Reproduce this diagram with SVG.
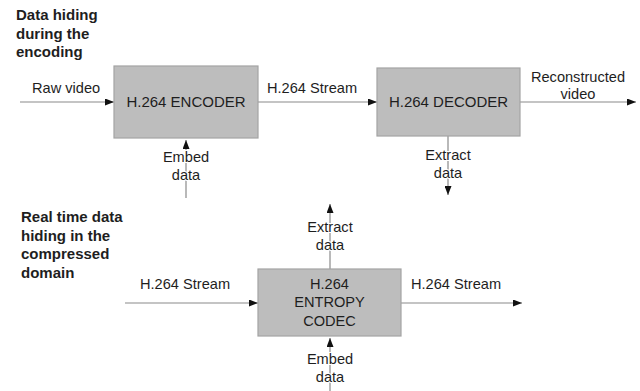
<svg xmlns="http://www.w3.org/2000/svg" width="640" height="391" viewBox="0 0 640 391">
<defs>
<marker id="ah" viewBox="0 0 9 7" refX="9" refY="3.5" markerWidth="9" markerHeight="7" markerUnits="userSpaceOnUse" orient="auto">
<path d="M0,0 L9,3.5 L0,7 Z" fill="#111"/>
</marker>
</defs>
<style>
.t{font-family:"Liberation Sans",Arial,sans-serif;font-size:14.6px;fill:#1e1e1e}
.c{text-anchor:middle}
.b{font-family:"Liberation Sans",Arial,sans-serif;font-size:15px;font-weight:bold;fill:#1e1e1e}
.box{fill:#bdbdbd;stroke:#a3a3a3;stroke-width:1.2}
.ln{stroke:#8a8a8a;stroke-width:1.2;fill:none}
.ar{marker-end:url(#ah)}
.h{paint-order:stroke;stroke:#fff;stroke-width:2}
</style>
<rect width="640" height="391" fill="#fff"/>
<g id="connectors">
<line class="ln ar" x1="20" y1="102" x2="114" y2="102"/>
<line class="ln ar" x1="258" y1="102" x2="377" y2="102"/>
<line class="ln ar" x1="520" y1="102" x2="636" y2="102"/>
<line class="ln ar" x1="186" y1="198" x2="186" y2="140"/>
<line class="ln ar" x1="448" y1="136" x2="448" y2="195"/>
<line class="ln ar" x1="125" y1="303" x2="258" y2="303"/>
<line class="ln ar" x1="401" y1="303" x2="522" y2="303"/>
<line class="ln ar" x1="330" y1="269" x2="330" y2="204"/>
<line class="ln ar" x1="330" y1="391" x2="330" y2="338"/>
</g>
<g id="labels">
<text class="b" x="16" y="20">Data hiding</text>
<text class="b" x="16" y="38.5">during the</text>
<text class="b" x="16" y="57">encoding</text>
<text class="b" x="21" y="222">Real time data</text>
<text class="b" x="21" y="240.5">hiding in the</text>
<text class="b" x="21" y="259">compressed</text>
<text class="b" x="21" y="277.5">domain</text>
<text class="t" x="32" y="92.7">Raw video</text>
<text class="t" x="267" y="92.7">H.264 Stream</text>
<text class="t c" x="578" y="81.7">Reconstructed</text>
<text class="t c" x="578" y="99">video</text>
<text class="t c h" x="186" y="162.3">Embed</text>
<text class="t c h" x="186" y="180">data</text>
<text class="t c h" x="448" y="160">Extract</text>
<text class="t c h" x="448" y="177.7">data</text>
<text class="t" x="140" y="289">H.264 Stream</text>
<text class="t" x="411" y="289">H.264 Stream</text>
<text class="t c h" x="330" y="232">Extract</text>
<text class="t c h" x="330" y="250">data</text>
<text class="t c h" x="330" y="364">Embed</text>
<text class="t c h" x="330" y="382">data</text>
</g>
<g id="encoder">
<rect class="box" x="114" y="66" width="144" height="72"/>
<text class="t c" x="186" y="107.3" style="font-size:15px">H.264 ENCODER</text>
</g>
<g id="decoder">
<rect class="box" x="377" y="68" width="143" height="68"/>
<text class="t c" x="448.5" y="107" style="font-size:15px">H.264 DECODER</text>
</g>
<g id="entropy">
<rect class="box" x="258" y="269" width="143" height="67"/>
<text class="t c" x="329.5" y="289">H.264</text>
<text class="t c" x="329.5" y="307">ENTROPY</text>
<text class="t c" x="329.5" y="325.5">CODEC</text>
</g>
</svg>
